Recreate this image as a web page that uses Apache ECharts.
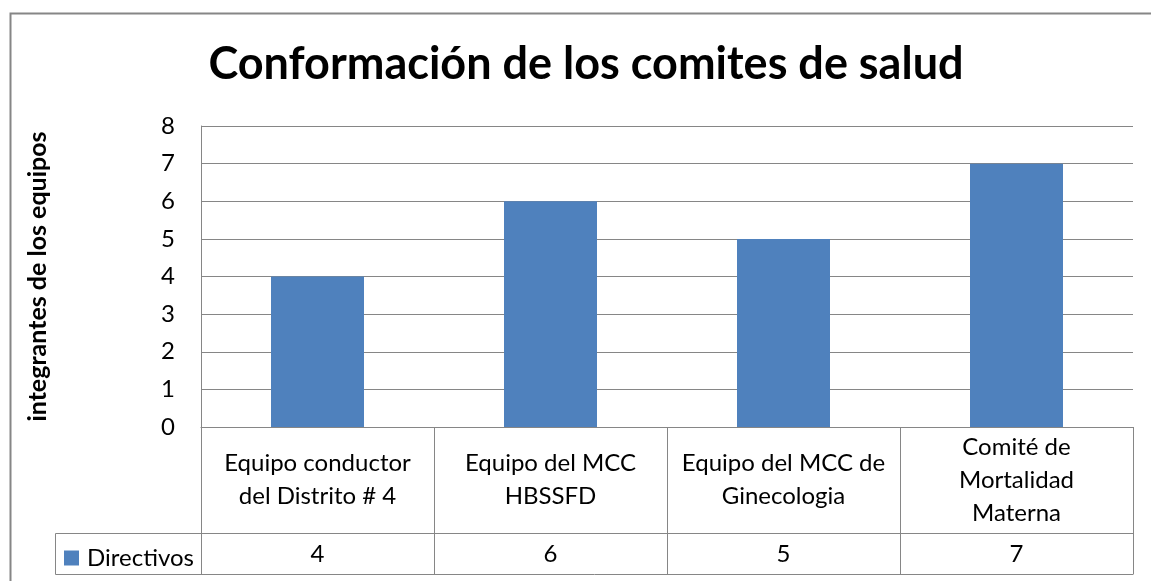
<!DOCTYPE html>
<html>
<head>
<meta charset="utf-8">
<script src="https://cdn.jsdelivr.net/npm/echarts@6/dist/echarts.min.js"></script>
<style>
  html, body { margin: 0; padding: 0; background: #fff; }
  #chart { width: 1151px; height: 581px; }
</style>
</head>
<body>
<div id="chart"></div>
<script>
var categories = [
  'Equipo conductor\ndel Distrito # 4',
  'Equipo del MCC\nHBSSFD',
  'Equipo del MCC de\nGinecologia',
  'Comité de\nMortalidad\nMaterna'
];
var seriesName = 'Directivos';
var values = [4, 6, 5, 7];
var yTicks = [0, 1, 2, 3, 4, 5, 6, 7, 8];

var FONT = 'Lato';
var GRID = '#868686';

var chart = echarts.init(document.getElementById('chart'));
var option = {
  animation: false,
  textStyle: { fontFamily: FONT },
  title: {
    text: 'Conformación de los comites de salud',
    left: 581,
    textAlign: 'center',
    top: 37,
    textStyle: { fontFamily: FONT, fontSize: 45, fontWeight: 'bold', color: '#000' }
  },
  legend: {
    left: 59,
    top: 541,
    icon: 'rect',
    itemWidth: 15,
    itemHeight: 15,
    itemGap: 6,
    textStyle: { fontFamily: FONT, fontSize: 24, color: '#000', padding: [0, 0, 0, 3] },
    data: [seriesName]
  },
  grid: { left: 201, right: 18, top: 126, bottom: 154 },
  xAxis: [
    {
      type: 'category',
      data: categories,
      axisLine: { lineStyle: { color: GRID } },
      axisTick: { show: true, length: 147, lineStyle: { color: GRID } },
      axisLabel: {
        fontFamily: FONT, fontSize: 24, color: '#000', lineHeight: 33,
        verticalAlign: 'middle', margin: 53, interval: 0
      }
    },
    {
      type: 'category',
      data: categories,
      position: 'bottom',
      offset: 106,
      axisLine: { lineStyle: { color: GRID } },
      axisTick: { show: false },
      axisLabel: {
        fontFamily: FONT, fontSize: 24, color: '#000',
        verticalAlign: 'middle', margin: 21, interval: 0,
        formatter: function (v, i) { return String(values[i]); }
      }
    }
  ],
  yAxis: {
    type: 'value',
    min: yTicks[0],
    max: yTicks[yTicks.length - 1],
    interval: 1,
    name: 'integrantes de los equipos',
    nameLocation: 'middle',
    nameGap: 151,
    nameRotate: 90,
    nameTextStyle: { fontFamily: FONT, fontSize: 25, fontWeight: 'bold', color: '#000' },
    axisLine: { show: true, lineStyle: { color: GRID } },
    axisTick: { show: false },
    splitLine: { lineStyle: { color: GRID } },
    axisLabel: { fontFamily: FONT, fontSize: 24, color: '#000', margin: 26 }
  },
  series: [{
    name: seriesName,
    type: 'bar',
    data: values,
    barWidth: 93,
    itemStyle: { color: '#4f81bd' }
  }],
  graphic: [
    { type: 'rect', shape: { x: 10.5, y: 13.5, width: 1300, height: 700 },
      style: { fill: 'none', stroke: GRID, lineWidth: 2 }, silent: true },
    { type: 'line', shape: { x1: 55.5, y1: 533.5, x2: 201, y2: 533.5 },
      style: { stroke: GRID, lineWidth: 1 } },
    { type: 'line', shape: { x1: 55.5, y1: 574.5, x2: 1133.5, y2: 574.5 },
      style: { stroke: GRID, lineWidth: 1 } },
    { type: 'line', shape: { x1: 55.5, y1: 533.5, x2: 55.5, y2: 574.5 },
      style: { stroke: GRID, lineWidth: 1 } }
  ]
};
chart.setOption(option);
</script>
</body>
</html>
